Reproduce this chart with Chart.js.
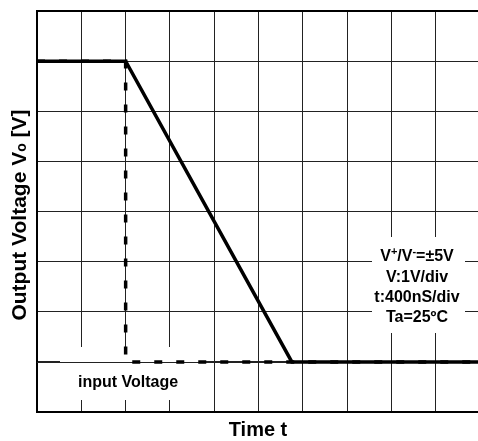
<!DOCTYPE html>
<html>
<head>
<meta charset="utf-8">
<script src="https://cdn.jsdelivr.net/npm/chart.js@4.4.0/dist/chart.umd.min.js"></script>
<style>
html,body{margin:0;padding:0;background:#fff;overflow:hidden;}
#wrap{position:relative;width:478px;height:441px;}
canvas{display:block;}
</style>
</head>
<body>
<div id="wrap"><canvas id="c" width="478" height="441"></canvas></div>
<script>
// Data (x in time divisions, y in voltage divisions)
const outputTime = [0, 2, 5.75, 10];
const outputVolt = [7, 7, 1, 1];
const inputTime = [0, 2, 2, 10];
const inputVolt = [7, 7, 1, 1];
const yTitle = ['Output Voltage V', 'o', ' [V]'];
const xTitle = 'Time t';
const inputLabel = 'input Voltage';
const noteLines = ['V+/V-=±5V', 'V:1V/div', 't:400nS/div', 'Ta=25ºC'];

const FONT = '"Liberation Sans", Arial, sans-serif';

const toPts = (xs, ys) => xs.map((x, i) => ({x: x, y: ys[i]}));

const overlay = {
  id: 'overlay',
  beforeDatasetsDraw(chart) {
    const ctx = chart.ctx;
    const ys = chart.scales.y;
    const ca = chart.chartArea;
    ctx.save();
    ctx.fillStyle = '#fff';
    // input label box
    ctx.fillRect(60, 347, 146, 53);
    // note box
    ctx.fillRect(372, 237, 93, 96);
    // restore gridline at value 1
    const y1 = Math.round(ys.getPixelForValue(1)) + 0.5;
    ctx.strokeStyle = '#222';
    ctx.lineWidth = 1;
    ctx.beginPath();
    ctx.moveTo(ca.left, y1);
    ctx.lineTo(ca.right, y1);
    ctx.stroke();
    ctx.restore();
  },
  afterDraw(chart) {
    const ctx = chart.ctx;
    ctx.save();
    ctx.fillStyle = '#000';
    ctx.textBaseline = 'middle';
    // input label
    ctx.font = 'bold 16px ' + FONT;
    ctx.textAlign = 'center';
    ctx.fillText(inputLabel, 128, 383);
    // note lines
    const cx = 417;
    const lineY = [257, 278, 298, 318];
    {
      const big = 'bold 16px ' + FONT, small = 'bold 11px ' + FONT;
      const parts = [['V', big, 0], ['+', small, -5], ['/V', big, 0], ['-', small, -5], ['=±5V', big, 0]];
      let w = 0;
      parts.forEach(p => { ctx.font = p[1]; w += ctx.measureText(p[0]).width; });
      let x = cx - w / 2;
      ctx.textAlign = 'left';
      parts.forEach(p => { ctx.font = p[1]; ctx.fillText(p[0], x, lineY[0] + p[2]); x += ctx.measureText(p[0]).width; });
    }
    ctx.textAlign = 'center';
    ctx.font = 'bold 16px ' + FONT;
    for (let i = 1; i < noteLines.length; i++) ctx.fillText(noteLines[i], cx, lineY[i]);
    // x title
    ctx.font = 'bold 20px ' + FONT;
    ctx.fillText(xTitle, 258, 430);
    // y title (rotated, with subscript o)
    ctx.translate(20, 215);
    ctx.rotate(-Math.PI / 2);
    const bigF = 'bold 21px ' + FONT, subF = 'bold 14px ' + FONT;
    ctx.font = bigF; const w0 = ctx.measureText(yTitle[0]).width;
    ctx.font = subF; const w1 = ctx.measureText(yTitle[1]).width;
    ctx.font = bigF; const w2 = ctx.measureText(yTitle[2]).width;
    let x = -(w0 + w1 + w2) / 2;
    ctx.textAlign = 'left';
    ctx.font = bigF; ctx.fillText(yTitle[0], x, 0); x += w0;
    ctx.font = subF; ctx.fillText(yTitle[1], x, 2); x += w1;
    ctx.font = bigF; ctx.fillText(yTitle[2], x, 0);
    ctx.restore();
  }
};

new Chart(document.getElementById('c'), {
  type: 'scatter',
  data: {
    datasets: [
      {
        label: 'Output',
        data: toPts(outputTime, outputVolt),
        showLine: true,
        borderColor: '#000',
        borderWidth: 3.5,
        pointRadius: 0,
        tension: 0,
        order: 1
      },
      {
        label: 'Input',
        data: toPts(inputTime, inputVolt),
        showLine: true,
        borderColor: '#000',
        borderWidth: 3.5,
        borderDash: [8, 14],
        pointRadius: 0,
        tension: 0,
        order: 2
      }
    ]
  },
  options: {
    responsive: false,
    animation: false,
    devicePixelRatio: 1,
    layout: { padding: { left: 37, top: 11, right: 0, bottom: 29 } },
    plugins: { legend: { display: false }, tooltip: { enabled: false }, title: { display: false } },
    scales: {
      x: {
        type: 'linear',
        min: 0, max: 9.95,
        ticks: { display: false, stepSize: 1 },
        grid: { color: '#222', lineWidth: 1, drawTicks: false },
        border: { color: '#000', width: 2 }
      },
      y: {
        type: 'linear',
        min: 0, max: 8,
        ticks: { display: false, stepSize: 1 },
        grid: { color: c => (c.tick && c.tick.value === 8) ? '#000' : '#222', drawTicks: false, lineWidth: c => (c.tick && c.tick.value === 8) ? 2 : 1 },
        border: { color: '#000', width: 2 }
      }
    }
  },
  plugins: [overlay]
});
</script>
</body>
</html>
